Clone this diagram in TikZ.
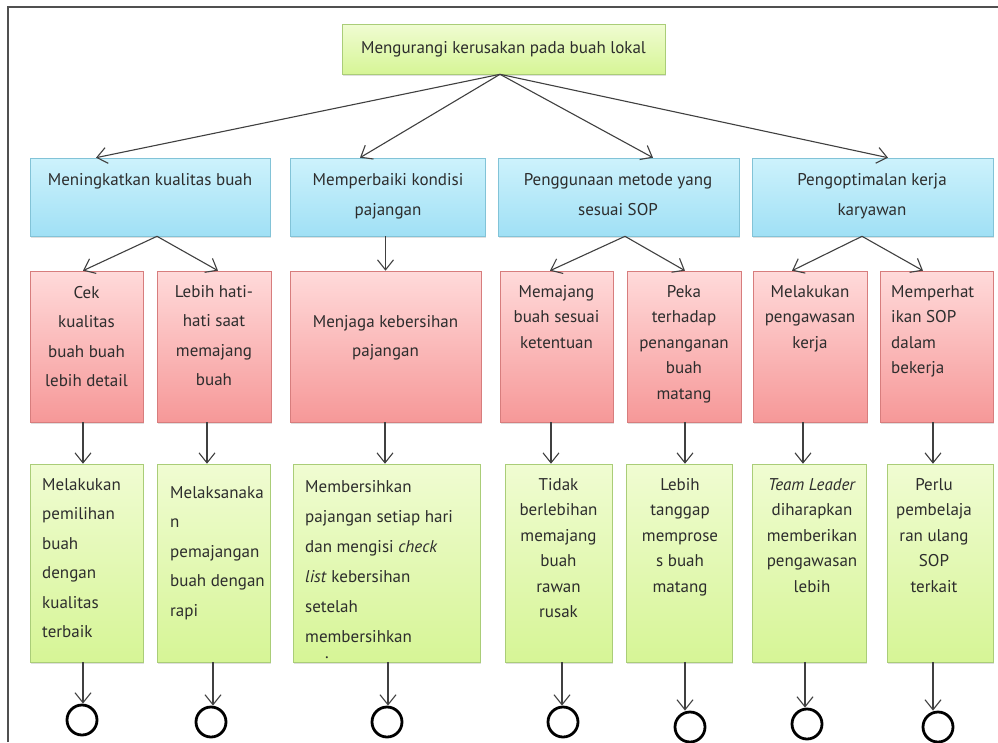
\documentclass[tikz,border=0pt]{standalone}
\usepackage{fontspec}
\setmainfont{PT Sans}
\usetikzlibrary{arrows.meta,shadows}
\definecolor{bluetop}{RGB}{205,242,252}
\definecolor{bluebot}{RGB}{160,224,245}
\definecolor{bluedraw}{RGB}{130,195,215}
\definecolor{redtop}{RGB}{255,218,218}
\definecolor{redbot}{RGB}{246,152,152}
\definecolor{reddraw}{RGB}{215,125,125}
\definecolor{greentop}{RGB}{240,252,210}
\definecolor{greenbot}{RGB}{214,245,150}
\definecolor{greendraw}{RGB}{170,205,120}
\definecolor{framecol}{RGB}{80,80,80}
\definecolor{txtcol}{RGB}{45,45,45}
\begin{document}
\begin{tikzpicture}[x=1pt,y=-1pt,
  box/.style={rectangle, inner sep=0pt, line width=0.6pt,
    drop shadow={opacity=0.25, shadow xshift=1.2pt, shadow yshift=-1.5pt}},
  bluebox/.style={box, draw=bluedraw, top color=bluetop, bottom color=bluebot, minimum height=78pt},
  redbox/.style={box, draw=reddraw, top color=redtop, bottom color=redbot, minimum height=151pt},
  greenbox/.style={box, draw=greendraw, top color=greentop, bottom color=greenbot, minimum height=198pt},
  topbox/.style={box, draw=greendraw, top color=greentop, bottom color=greenbot,
    text=txtcol, font=\fontsize{17}{30}\selectfont},
  txt/.style={inner sep=0pt, text=txtcol, align=center, anchor=north},
  ltxt/.style={inner sep=0pt, text=txtcol, align=left, anchor=north west},
  blu/.style={font=\fontsize{17}{30}\selectfont},
  wide/.style={font=\fontsize{17}{29.5}\selectfont},
  tight/.style={font=\fontsize{17}{25.5}\selectfont},
  endc/.style={circle, draw=black, line width=2.8pt, minimum size=30pt, inner sep=0pt},
  arr/.style={draw=black!75, line width=1.1pt, -{Straight Barb[length=10pt,width=16pt]}}
]
\useasboundingbox (0,0) rectangle (998,742);
\fill[white] (0,0) rectangle (998,742);
\draw[framecol, line width=2pt] (8,742) -- (8,7) -- (998,7);

% top
\node[topbox, minimum width=323pt, minimum height=50pt] (top) at (503.5,49) {Mengurangi kerusakan pada buah lokal};

% blue level
\node[bluebox, minimum width=240pt] (b1) at (150,197) {};
\node[bluebox, minimum width=195pt] (b2) at (387.5,197) {};
\node[bluebox, minimum width=241pt] (b3) at (618.5,197) {};
\node[bluebox, minimum width=241pt] (b4) at (872.5,197) {};
\node[txt, blu] (b1t) at (150,173) {Meningkatkan kualitas buah};
\node[txt, blu] (b2t) at (388,173) {Memperbaiki kondisi\\pajangan};
\node[txt, blu] (b3t) at (618,173) {Penggunaan metode yang\\sesuai SOP};
\node[txt, blu] (b4t) at (872,173) {Pengoptimalan kerja\\karyawan};

% red level
\node[redbox, minimum width=113pt] (r1) at (86.5,346.5) {};
\node[redbox, minimum width=114pt] (r2) at (214,346.5) {};
\node[redbox, minimum width=191pt] (r3) at (385.5,346.5) {};
\node[redbox, minimum width=113pt] (r4) at (556.5,346.5) {};
\node[redbox, minimum width=114pt] (r5) at (684,346.5) {};
\node[redbox, minimum width=114pt] (r6) at (810,346.5) {};
\node[redbox, minimum width=113pt] (r7) at (936.5,346.5) {};
\node[txt, wide] (r1t) at (86.5,286) {Cek\\kualitas\\buah buah\\lebih detail};
\node[txt, wide] (r2t) at (214,285) {Lebih hati-\\hati saat\\memajang\\buah};
\node[txt, wide] (r3t) at (385.5,315) {Menjaga kebersihan\\pajangan};
\node[txt, tight] (r4t) at (556.5,285) {Memajang\\buah sesuai\\ketentuan};
\node[txt, tight] (r5t) at (684,285) {Peka\\terhadap\\penanganan\\buah\\matang};
\node[txt, tight] (r6t) at (810,285) {Melakukan\\pengawasan\\kerja};
\node[ltxt, tight] (r7t) at (891,285) {Memperhat\\ikan SOP\\dalam\\bekerja};

% green level
\node[greenbox, minimum width=113pt] (g1) at (86.5,563) {};
\node[greenbox, minimum width=113pt] (g2) at (213.5,563) {};
\node[greenbox, minimum width=187pt] (g3) at (386.5,563) {};
\node[greenbox, minimum width=107pt] (g4) at (558.5,563) {};
\node[greenbox, minimum width=106pt] (g5) at (679,563) {};
\node[greenbox, minimum width=114pt] (g6) at (809,563) {};
\node[greenbox, minimum width=106pt] (g7) at (940,563) {};
\node[ltxt, wide] (g1t) at (42,478) {Melakukan\\pemilihan\\buah\\dengan\\kualitas\\terbaik};
\node[ltxt, wide] (g2t) at (170,486) {Melaksanaka\\n\\pemajangan\\buah dengan\\rapi};
\node[ltxt, font=\fontsize{17}{30}\selectfont] (g3t) at (305,480) {Membersihkan\\pajangan setiap hari\\dan mengisi \textit{check}\\\textit{list} kebersihan\\setelah\\membersihkan\\[-14pt]\hspace*{20pt}.};
\node[txt, tight] (g4t) at (558.5,478) {Tidak\\berlebihan\\memajang\\buah\\rawan\\rusak};
\node[txt, tight] (g5t) at (680,478) {Lebih\\tanggap\\memprose\\s buah\\matang};
\node[txt, tight] (g6t) at (812,478) {\textit{Team Leader}\\diharapkan\\memberikan\\pengawasan\\lebih};
\node[txt, tight] (g7t) at (934,478) {Perlu\\pembelaja\\ran ulang\\SOP\\terkait};

% end circles
\node[endc] (c1) at (82,720) {};
\node[endc] (c2) at (211,722) {};
\node[endc] (c3) at (387,722) {};
\node[endc] (c4) at (563,722) {};
\node[endc] (c5) at (690,727) {};
\node[endc] (c6) at (807,724) {};
\node[endc] (c7) at (938,727) {};

% top -> blue
\draw[arr] ([xshift=-3.5pt]top.south) -- ([xshift=-54pt]b1.north);
\draw[arr] ([xshift=-3.5pt]top.south) -- ([xshift=-27.5pt]b2.north);
\draw[arr] ([xshift=-3.5pt]top.south) -- ([xshift=34.5pt]b3.north);
\draw[arr] ([xshift=-3.5pt]top.south) -- ([xshift=15.5pt]b4.north);

% blue -> red
\draw[arr] ([xshift=7pt]b1.south) -- ([xshift=-3.5pt]r1.north);
\draw[arr] ([xshift=7pt]b1.south) -- ([xshift=4pt]r2.north);
\draw[arr] ([xshift=-2pt]b2.south) -- (r3.north);
\draw[arr] ([xshift=6.5pt]b3.south) -- ([xshift=-6.5pt]r4.north);
\draw[arr] ([xshift=6.5pt]b3.south) -- ([xshift=1pt]r5.north);
\draw[arr] ([xshift=-10.5pt]b4.south) -- ([xshift=-18pt]r6.north);
\draw[arr] ([xshift=-10.5pt]b4.south) -- ([xshift=-13.5pt]r7.north);

% red -> green
\draw[arr] (83,0 |- r1.south) -- (83,0 |- g1.north);
\draw[arr] (207,0 |- r2.south) -- (207,0 |- g2.north);
\draw[arr] (385,0 |- r3.south) -- (385,0 |- g3.north);
\draw[arr] (551,0 |- r4.south) -- (551,0 |- g4.north);
\draw[arr] (685,0 |- r5.south) -- (685,0 |- g5.north);
\draw[arr] (803,0 |- r6.south) -- (803,0 |- g6.north);
\draw[arr] (933,0 |- r7.south) -- (933,0 |- g7.north);

% green -> circles
\draw[arr] (83,0 |- g1.south) -- (83,0 |- c1.north);
\draw[arr] (213,0 |- g2.south) -- (213,0 |- c2.north);
\draw[arr] (388,0 |- g3.south) -- (388,0 |- c3.north);
\draw[arr] (562,0 |- g4.south) -- (562,0 |- c4.north);
\draw[arr] (685,0 |- g5.south) -- (685,0 |- c5.north);
\draw[arr] (805,0 |- g6.south) -- (805,0 |- c6.north);
\draw[arr] (933,0 |- g7.south) -- (933,0 |- c7.north);
\end{tikzpicture}
\end{document}
